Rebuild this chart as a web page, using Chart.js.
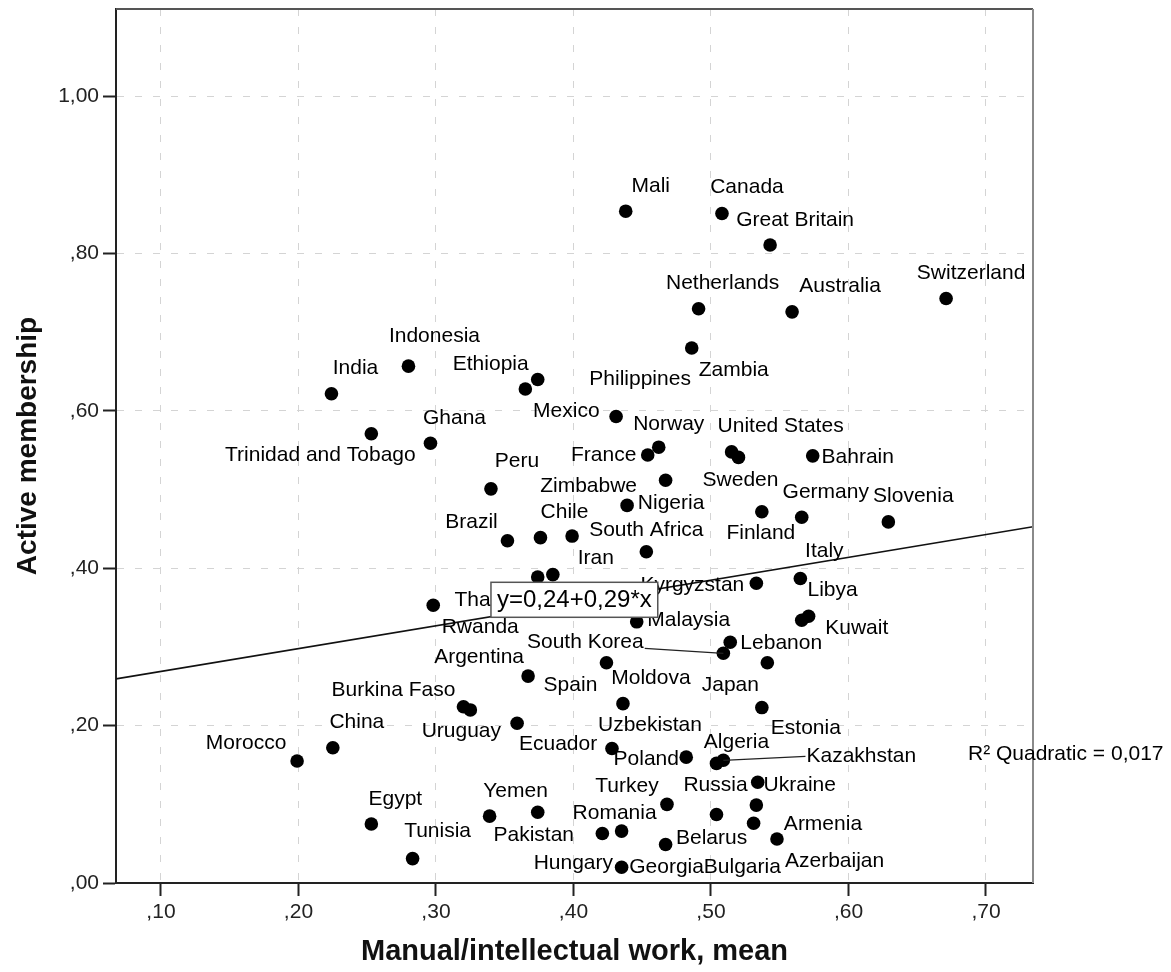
<!DOCTYPE html>
<html>
<head>
<meta charset="utf-8">
<title>Active membership vs manual/intellectual work</title>
<script src="https://cdn.jsdelivr.net/npm/chart.js"></script>
<style>
  html, body { margin: 0; padding: 0; background: #fff; }
  #wrap { width: 1171px; height: 972px; }
</style>
</head>
<body>
<div id="wrap"><canvas id="myChart" width="1171" height="972"></canvas></div>
<script>
// one entry per dot (one dot carries no name in the original)
var countries = [
  'Mali', 'Canada', 'Great Britain', 'Netherlands', 'Australia', 'Switzerland',
  'Zambia', 'Indonesia', 'India', 'Ethiopia', 'Mexico', 'Philippines',
  'Trinidad and Tobago', 'Ghana', 'Norway', 'France', 'United States', 'Sweden',
  'Bahrain', 'Peru', 'Zimbabwe', 'Nigeria', 'Finland', 'Germany', 'Slovenia',
  'Brazil', 'Chile', '', 'South Africa', 'Thailand', 'Iran', 'Rwanda',
  'Kyrgyzstan', 'Italy', 'Libya', 'Kuwait', 'Malaysia', 'Lebanon', 'South Korea',
  'Japan', 'Spain', 'Argentina', 'Moldova', 'Burkina Faso', 'Uruguay', 'Estonia',
  'Ecuador', 'China', 'Morocco', 'Uzbekistan', 'Poland', 'Algeria', 'Kazakhstan',
  'Ukraine', 'Turkey', 'Bulgaria', 'Russia', 'Egypt', 'Yemen', 'Pakistan',
  'Azerbaijan', 'Romania', 'Hungary', 'Armenia', 'Belarus', 'Tunisia', 'Georgia'
];

// Manual/intellectual work, mean
var manualWork = [
  0.438, 0.508, 0.543, 0.491, 0.559, 0.671,
  0.486, 0.280, 0.224, 0.374, 0.365, 0.431,
  0.253, 0.296, 0.462, 0.454, 0.515, 0.520,
  0.574, 0.340, 0.467, 0.439, 0.537, 0.566, 0.629,
  0.352, 0.376, 0.399, 0.453, 0.374, 0.385, 0.298,
  0.533, 0.565, 0.571, 0.566, 0.446, 0.514, 0.509,
  0.541, 0.424, 0.367, 0.436, 0.320, 0.325, 0.537,
  0.359, 0.225, 0.199, 0.428, 0.482, 0.504, 0.509,
  0.534, 0.468, 0.533, 0.504, 0.253, 0.339, 0.374,
  0.531, 0.435, 0.421, 0.548, 0.467, 0.283, 0.435
];

// Active membership
var activeMembership = [
  0.854, 0.851, 0.811, 0.730, 0.726, 0.743,
  0.680, 0.657, 0.622, 0.640, 0.628, 0.593,
  0.571, 0.559, 0.554, 0.544, 0.548, 0.541,
  0.543, 0.501, 0.512, 0.480, 0.472, 0.465, 0.459,
  0.435, 0.439, 0.441, 0.421, 0.389, 0.392, 0.353,
  0.381, 0.387, 0.339, 0.334, 0.332, 0.306, 0.292,
  0.280, 0.280, 0.263, 0.228, 0.224, 0.220, 0.223,
  0.203, 0.172, 0.155, 0.171, 0.160, 0.152, 0.156,
  0.128, 0.100, 0.099, 0.087, 0.075, 0.085, 0.090,
  0.076, 0.066, 0.063, 0.056, 0.049, 0.031, 0.020
];

var xTicks = [0.1, 0.2, 0.3, 0.4, 0.5, 0.6, 0.7];
var yTicks = [0, 0.2, 0.4, 0.6, 0.8, 1.0];
var xMin = 0.0673, xMax = 0.7342;
var yMin = 0, yMax = 1.111;

// linear fit shown on the plot
var fitIntercept = 0.24;
var fitSlope = 0.29;
var fitText = 'y=0,24+0,29*x';
var fitBoxAt = { x: 0.34, y: 0.36 };   // left edge / middle of the equation box
var r2Text = 'R\u00b2 Quadratic = 0,017';
var r2At = 0.164;                      // y value of the R2 note

// where each name sits relative to its dot (px, centre of the text)
var labelOffsets = {
  'Mali': [25, -25], 'Canada': [25, -26], 'Great Britain': [25, -25],
  'Netherlands': [24, -26], 'Australia': [48, -26], 'Switzerland': [25, -25],
  'Zambia': [42, 22], 'Indonesia': [26, -30], 'India': [24, -25],
  'Ethiopia': [-47, -15], 'Mexico': [41, 22], 'Philippines': [24, -37],
  'Trinidad and Tobago': [-51, 21], 'Ghana': [24, -25], 'Norway': [10, -23],
  'France': [-44, 0], 'United States': [49, -26], 'Sweden': [2, 23],
  'Bahrain': [45, 1], 'Peru': [26, -28], 'Zimbabwe': [-77, 6],
  'Nigeria': [44, -2], 'Finland': [-1, 22], 'Germany': [24, -25],
  'Slovenia': [25, -26], 'Brazil': [-36, -19], 'Chile': [24, -25],
  'South Africa': [0, -22], 'Thailand': [-43, 23], 'Iran': [43, -16],
  'Rwanda': [47, 22], 'Kyrgyzstan': [-64, 2], 'Italy': [24, -27],
  'Libya': [24, -26], 'Kuwait': [55, 8], 'Malaysia': [52, -2],
  'Lebanon': [51, 1], 'South Korea': [-138, -11], 'Japan': [-37, 22],
  'Spain': [-36, 22], 'Argentina': [-49, -19], 'Moldova': [28, -25],
  'Burkina Faso': [-70, -17], 'Uruguay': [-9, 21], 'Estonia': [44, 21],
  'Ecuador': [41, 21], 'China': [24, -25], 'Morocco': [-51, -18],
  'Uzbekistan': [38, -23], 'Poland': [-40, 2], 'Algeria': [20, -21],
  'Kazakhstan': [138, -4], 'Ukraine': [42, 3], 'Turkey': [-40, -18],
  'Bulgaria': [-14, 62], 'Russia': [-1, -29], 'Egypt': [24, -25],
  'Yemen': [26, -25], 'Pakistan': [-4, 23], 'Azerbaijan': [81, 38],
  'Romania': [-7, -18], 'Hungary': [-29, 30], 'Armenia': [46, -15],
  'Belarus': [46, -6], 'Tunisia': [25, -27], 'Georgia': [45, 0]
};
// names joined to their dot by a thin line
var connectors = ['South Korea', 'Kazakhstan'];

var FONT = '"Liberation Sans", Arial, sans-serif';

function commaTick(v) {
  // SPSS style: ,20  1,00
  return v.toFixed(2).replace('.', ',').replace(/^0/, '');
}

var points = manualWork.map(function (x, i) {
  return { x: x, y: activeMembership[i] };
});
var fitLine = [
  { x: xMin, y: fitIntercept + fitSlope * xMin },
  { x: xMax, y: fitIntercept + fitSlope * xMax }
];

var spssDecor = {
  id: 'spssDecor',
  afterDatasetsDraw: function (chart) {
    var ctx = chart.ctx;
    var area = chart.chartArea;
    var xs = chart.scales.x, ys = chart.scales.y;

    // top and right side of the frame
    ctx.save();
    ctx.lineWidth = 2;
    ctx.strokeStyle = '#555';
    ctx.beginPath();
    ctx.moveTo(area.left, area.top);
    ctx.lineTo(area.right, area.top);
    ctx.stroke();
    ctx.strokeStyle = '#8a8a8a';
    ctx.beginPath();
    ctx.moveTo(area.right, area.top);
    ctx.lineTo(area.right, area.bottom);
    ctx.stroke();
    ctx.restore();

    // country names
    var meta = chart.getDatasetMeta(0);
    ctx.save();
    ctx.font = '21px ' + FONT;
    ctx.fillStyle = '#000';
    ctx.textAlign = 'center';
    ctx.textBaseline = 'middle';
    meta.data.forEach(function (pt, i) {
      var name = countries[i];
      var off = labelOffsets[name];
      if (!name || !off) return;
      var lx = pt.x + off[0], ly = pt.y + off[1];
      ctx.fillText(name, lx, ly);
      if (connectors.indexOf(name) >= 0) {
        var half = ctx.measureText(name).width / 2;
        var ex = off[0] < 0 ? lx + half + 1 : lx - half - 1;
        var ey = off[0] < 0 ? ly + 6 : ly;
        ctx.save();
        ctx.strokeStyle = '#222';
        ctx.lineWidth = 1.3;
        ctx.beginPath();
        ctx.moveTo(ex, ey);
        ctx.lineTo(pt.x, pt.y);
        ctx.stroke();
        ctx.restore();
      }
    });
    ctx.restore();

    // equation box on the fit line
    ctx.save();
    ctx.font = '24px ' + FONT;
    var bw = ctx.measureText(fitText).width + 12;
    var bh = 35;
    var bx = xs.getPixelForValue(fitBoxAt.x);
    var by = ys.getPixelForValue(fitBoxAt.y) - bh / 2;
    ctx.fillStyle = '#fff';
    ctx.fillRect(bx, by, bw, bh);
    ctx.strokeStyle = '#555';
    ctx.lineWidth = 1.5;
    ctx.strokeRect(bx, by, bw, bh);
    ctx.fillStyle = '#000';
    ctx.textAlign = 'left';
    ctx.textBaseline = 'middle';
    ctx.fillText(fitText, bx + 6, by + bh / 2 + 1);
    ctx.restore();

    // R2 note, right of the plot
    ctx.save();
    ctx.font = '21px ' + FONT;
    ctx.fillStyle = '#000';
    ctx.textAlign = 'left';
    ctx.textBaseline = 'middle';
    ctx.fillText(r2Text, area.right - 65, ys.getPixelForValue(r2At));
    ctx.restore();
  }
};

var gridStyle = {
  color: '#d4d4d4',
  lineWidth: 1,
  drawTicks: true,
  tickLength: 13,
  tickColor: '#222',
  tickWidth: 2
};

var ctx = document.getElementById('myChart').getContext('2d');

var chart = new Chart(ctx, {
  type: 'scatter',
  data: {
    datasets: [{
      label: 'Countries',
      data: points,
      backgroundColor: '#000',
      borderWidth: 0,
      pointRadius: 6.8,
      pointHoverRadius: 6.8
    }, {
      type: 'line',
      label: 'Fit',
      data: fitLine,
      borderColor: '#111',
      borderWidth: 1.6,
      pointRadius: 0,
      fill: false
    }]
  },
  options: {
    responsive: false,
    devicePixelRatio: 1,
    animation: false,
    layout: { padding: { top: 9, right: 138, left: 0, bottom: 0 } },
    plugins: {
      legend: { display: false },
      tooltip: { enabled: false }
    },
    scales: {
      x: {
        type: 'linear',
        min: xMin,
        max: xMax,
        afterBuildTicks: function (s) {
          s.ticks = xTicks.map(function (v) { return { value: v }; });
        },
        afterFit: function (s) {
          s.height = 89;
          s.paddingLeft = 0;
          s.paddingRight = 0;
        },
        ticks: {
          callback: commaTick,
          font: { family: FONT, size: 21 },
          color: '#222',
          padding: 4,
          maxRotation: 0,
          autoSkip: false
        },
        grid: gridStyle,
        border: { display: true, color: '#222', width: 2, dash: [7, 11] },
        title: {
          display: true,
          text: 'Manual/intellectual work, mean',
          font: { family: FONT, size: 29, weight: 'bold' },
          color: '#111',
          padding: { top: 0, bottom: 3 }
        }
      },
      y: {
        type: 'linear',
        min: yMin,
        max: yMax,
        afterBuildTicks: function (s) {
          s.ticks = yTicks.map(function (v) { return { value: v }; });
        },
        afterFit: function (s) {
          s.width = 116;
          s.paddingTop = 0;
          s.paddingBottom = 0;
        },
        ticks: {
          callback: commaTick,
          font: { family: FONT, size: 21 },
          color: '#222',
          padding: 4
        },
        grid: gridStyle,
        border: { display: true, color: '#222', width: 2, dash: [7, 11] },
        title: {
          display: true,
          text: 'Active membership',
          font: { family: FONT, size: 28, weight: 'bold' },
          color: '#111',
          padding: { top: 11, bottom: 0 }
        }
      }
    }
  },
  plugins: [spssDecor]
});
</script>
</body>
</html>
